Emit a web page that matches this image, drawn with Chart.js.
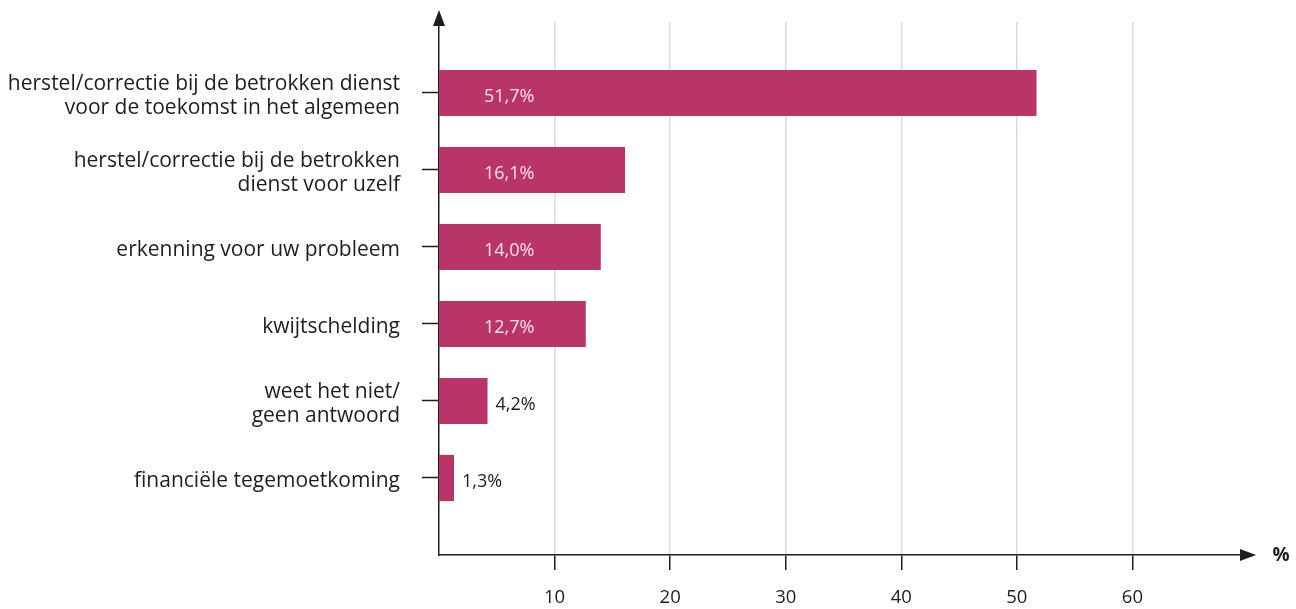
<!DOCTYPE html>
<html>
<head>
<meta charset="utf-8">
<script src="https://cdn.jsdelivr.net/npm/chart.js@4/dist/chart.umd.min.js"></script>
<style>
html,body{margin:0;padding:0;background:#fff;}
#wrap{width:1296px;height:609px;position:relative;}
</style>
</head>
<body>
<div id="wrap"><canvas id="c" width="1296" height="609"></canvas></div>
<script>
const categories = [
  ["herstel/correctie bij de betrokken dienst", "voor de toekomst in het algemeen"],
  ["herstel/correctie bij de betrokken", "dienst voor uzelf"],
  ["erkenning voor uw probleem"],
  ["kwijtschelding"],
  ["weet het niet/", "geen antwoord"],
  ["financiële tegemoetkoming"]
];
const values = [51.7, 16.1, 14.0, 12.7, 4.2, 1.3];
const xTicks = [10, 20, 30, 40, 50, 60];

const FONT = "'Open Sans', 'Noto Sans', sans-serif";
const BAR = '#b93568';
const DARK = '#1e1e1e';

const fmt = v => v.toFixed(1).replace('.', ',') + '%';

const labelPlugin = {
  id: 'valueLabels',
  afterDatasetsDraw(chart) {
    const ctx = chart.ctx;
    const meta = chart.getDatasetMeta(0);
    ctx.save();
    ctx.font = '18px ' + FONT;
    ctx.textBaseline = 'middle';
    ctx.textAlign = 'left';
    meta.data.forEach((bar, i) => {
      const v = values[i];
      if (v > 10) {
        ctx.fillStyle = '#f7e3ec';
        ctx.fillText(fmt(v), bar.base + 45, bar.y + 4);
      } else {
        ctx.fillStyle = DARK;
        ctx.fillText(fmt(v), bar.x + 8, bar.y + 4);
      }
    });
    ctx.restore();
  }
};

const arrowPlugin = {
  id: 'arrows',
  afterDraw(chart) {
    const ctx = chart.ctx;
    const a = chart.chartArea;
    ctx.save();
    ctx.strokeStyle = DARK;
    ctx.fillStyle = DARK;
    ctx.lineWidth = 1.5;
    ctx.beginPath();
    ctx.moveTo(a.left, a.top);
    ctx.lineTo(a.left, a.top - 4);
    ctx.stroke();
    ctx.beginPath();
    ctx.moveTo(a.left, a.top - 12);
    ctx.lineTo(a.left - 6, a.top + 4);
    ctx.lineTo(a.left + 6, a.top + 4);
    ctx.closePath();
    ctx.fill();
    ctx.beginPath();
    ctx.moveTo(a.right, a.bottom);
    ctx.lineTo(a.right - 6, a.bottom);
    ctx.stroke();
    ctx.beginPath();
    ctx.moveTo(a.right + 8, a.bottom);
    ctx.lineTo(a.right - 8, a.bottom - 6);
    ctx.lineTo(a.right - 8, a.bottom + 6);
    ctx.closePath();
    ctx.fill();
    ctx.font = 'bold 19px ' + FONT;
    ctx.textAlign = 'center';
    ctx.textBaseline = 'middle';
    ctx.fillText('%', a.right + 33, a.bottom + 1);
    ctx.restore();
  }
};

new Chart(document.getElementById('c'), {
  type: 'bar',
  data: {
    datasets: [{
      data: values.map((v, i) => ({ x: v, y: i })),
      backgroundColor: BAR,
      borderWidth: 0,
      categoryPercentage: 1,
      barPercentage: 0.6
    }]
  },
  options: {
    indexAxis: 'y',
    responsive: false,
    animation: false,
    devicePixelRatio: 1,
    layout: { padding: { top: 22, right: 48, left: 0, bottom: 0 } },
    plugins: { legend: { display: false }, tooltip: { enabled: false } },
    scales: {
      x: {
        type: 'linear',
        min: 0,
        max: 70,
        offset: false,
        afterBuildTicks: s => { s.ticks = xTicks.map(v => ({ value: v })); },
        afterFit: s => { s.height = 54; s.paddingLeft = 0; s.paddingRight = 0; },
        grid: {
          offset: false,
          color: '#dcdcdc',
          lineWidth: 1.5,
          tickColor: DARK,
          tickLength: 15,
          tickWidth: 1.5
        },
        border: { display: true, color: DARK, width: 1.5 },
        ticks: {
          color: DARK,
          font: { family: FONT, size: 18.5 },
          padding: 17,
          maxRotation: 0
        }
      },
      y: {
        type: 'linear',
        reverse: true,
        min: -0.922,
        max: 6.0,
        offset: false,
        afterBuildTicks: s => { s.ticks = categories.map((_, i) => ({ value: i })); },
        afterFit: s => { s.width = 439; s.paddingTop = 0; s.paddingBottom = 0; },
        grid: {
          offset: false,
          drawOnChartArea: false,
          tickColor: DARK,
          tickLength: 17,
          tickWidth: 1.5
        },
        border: { display: true, color: DARK, width: 1.5 },
        ticks: {
          color: DARK,
          font: { family: FONT, size: 21, lineHeight: 1.15 },
          padding: 22,
          labelOffset: 3,
          callback: v => categories[v] || ''
        }
      }
    }
  },
  plugins: [labelPlugin, arrowPlugin]
});
</script>
</body>
</html>
